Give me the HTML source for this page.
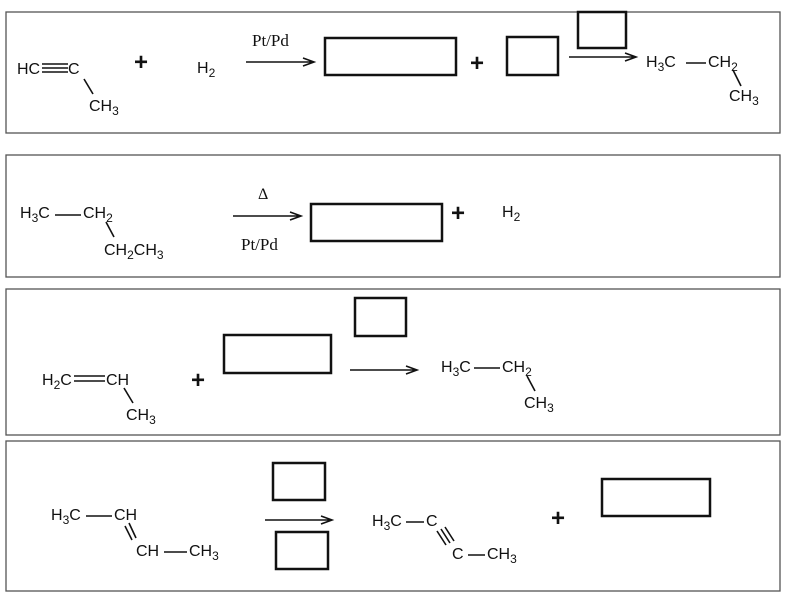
<!DOCTYPE html>
<html><head><style>html,body{margin:0;padding:0;background:#fff}</style></head>
<body>
<svg width="800" height="599" xmlns="http://www.w3.org/2000/svg" font-family="Liberation Sans, sans-serif" font-size="16" fill="#111">
<g fill="none" stroke="#555" stroke-width="1.3">
<rect x="6" y="12" width="774" height="121"/>
<rect x="6" y="155" width="774" height="122"/>
<rect x="6" y="289" width="774" height="146"/>
<rect x="6" y="441" width="774" height="150"/>
</g>
<g fill="none" stroke="#111" stroke-width="2.5">
<rect x="325" y="38" width="131" height="37"/>
<rect x="507" y="37" width="51" height="38"/>
<rect x="578" y="12" width="48" height="36"/>
<rect x="311" y="204" width="131" height="37"/>
<rect x="224" y="335" width="107" height="38"/>
<rect x="355" y="298" width="51" height="38"/>
<rect x="273" y="463" width="52" height="37"/>
<rect x="276" y="532" width="52" height="37"/>
<rect x="602" y="479" width="108" height="37"/>
</g>
<g stroke="#111" stroke-width="1.6" fill="none">
<path d="M246 62H313M303 58L314 62L303 66"/>
<path d="M569 57H635M625 53L636 57L625 61"/>
<path d="M233 216H300M290 212L301 216L290 220"/>
<path d="M350 370H416M406 366L417 370L406 374"/>
<path d="M265 520H331M321 516L332 520L321 524"/>
<path d="M42 64H68M42 68H68M42 72H68"/>
<path d="M84 79L93 94"/>
<path d="M686 63H706"/>
<path d="M733 70L741 86"/>
<path d="M55 215H81"/>
<path d="M106 222L114 237"/>
<path d="M74 376H105M74 381H105"/>
<path d="M124 388L133 403"/>
<path d="M474 368H500"/>
<path d="M527 376L535 391"/>
<path d="M86 516H112"/>
<path d="M129 523L136 538M125 526L132 540"/>
<path d="M164 552H187"/>
<path d="M406 522H424"/>
<path d="M441 529L450 543M437 531L446 545M445 527L454 541"/>
<path d="M468 555H485"/>
</g>
<text x="17" y="74">HC</text><text x="68" y="74">C</text>
<text x="89" y="111">CH<tspan font-size="12" dy="4">3</tspan></text>
<text x="134" y="70" font-size="24" font-weight="bold">+</text>
<text x="197" y="73">H<tspan font-size="12" dy="4">2</tspan></text>
<text x="252" y="46" font-family="Liberation Serif, serif" font-size="17">Pt/Pd</text>
<text x="470" y="71" font-size="24" font-weight="bold">+</text>
<text x="646" y="67">H<tspan font-size="12" dy="4">3</tspan><tspan dy="-4">C</tspan></text>
<text x="708" y="67">CH<tspan font-size="12" dy="4">2</tspan></text>
<text x="729" y="101">CH<tspan font-size="12" dy="4">3</tspan></text>

<text x="20" y="218">H<tspan font-size="12" dy="4">3</tspan><tspan dy="-4">C</tspan></text>
<text x="83" y="218">CH<tspan font-size="12" dy="4">2</tspan></text>
<text x="104" y="255">CH<tspan font-size="12" dy="4">2</tspan><tspan dy="-4">CH</tspan><tspan font-size="12" dy="4">3</tspan></text>
<text x="258" y="199" font-family="Liberation Serif, serif" font-size="16">Δ</text>
<text x="241" y="250" font-family="Liberation Serif, serif" font-size="17">Pt/Pd</text>
<text x="451" y="221" font-size="24" font-weight="bold">+</text>
<text x="502" y="217">H<tspan font-size="12" dy="4">2</tspan></text>

<text x="42" y="385">H<tspan font-size="12" dy="4">2</tspan><tspan dy="-4">C</tspan></text>
<text x="106" y="385">CH</text>
<text x="126" y="420">CH<tspan font-size="12" dy="4">3</tspan></text>
<text x="191" y="388" font-size="24" font-weight="bold">+</text>
<text x="441" y="372">H<tspan font-size="12" dy="4">3</tspan><tspan dy="-4">C</tspan></text>
<text x="502" y="372">CH<tspan font-size="12" dy="4">2</tspan></text>
<text x="524" y="408">CH<tspan font-size="12" dy="4">3</tspan></text>

<text x="51" y="520">H<tspan font-size="12" dy="4">3</tspan><tspan dy="-4">C</tspan></text>
<text x="114" y="520">CH</text>
<text x="136" y="556">CH</text>
<text x="189" y="556">CH<tspan font-size="12" dy="4">3</tspan></text>
<text x="372" y="526">H<tspan font-size="12" dy="4">3</tspan><tspan dy="-4">C</tspan></text>
<text x="426" y="526">C</text>
<text x="452" y="559">C</text>
<text x="487" y="559">CH<tspan font-size="12" dy="4">3</tspan></text>
<text x="551" y="526" font-size="24" font-weight="bold">+</text>
</svg>
</body></html>
